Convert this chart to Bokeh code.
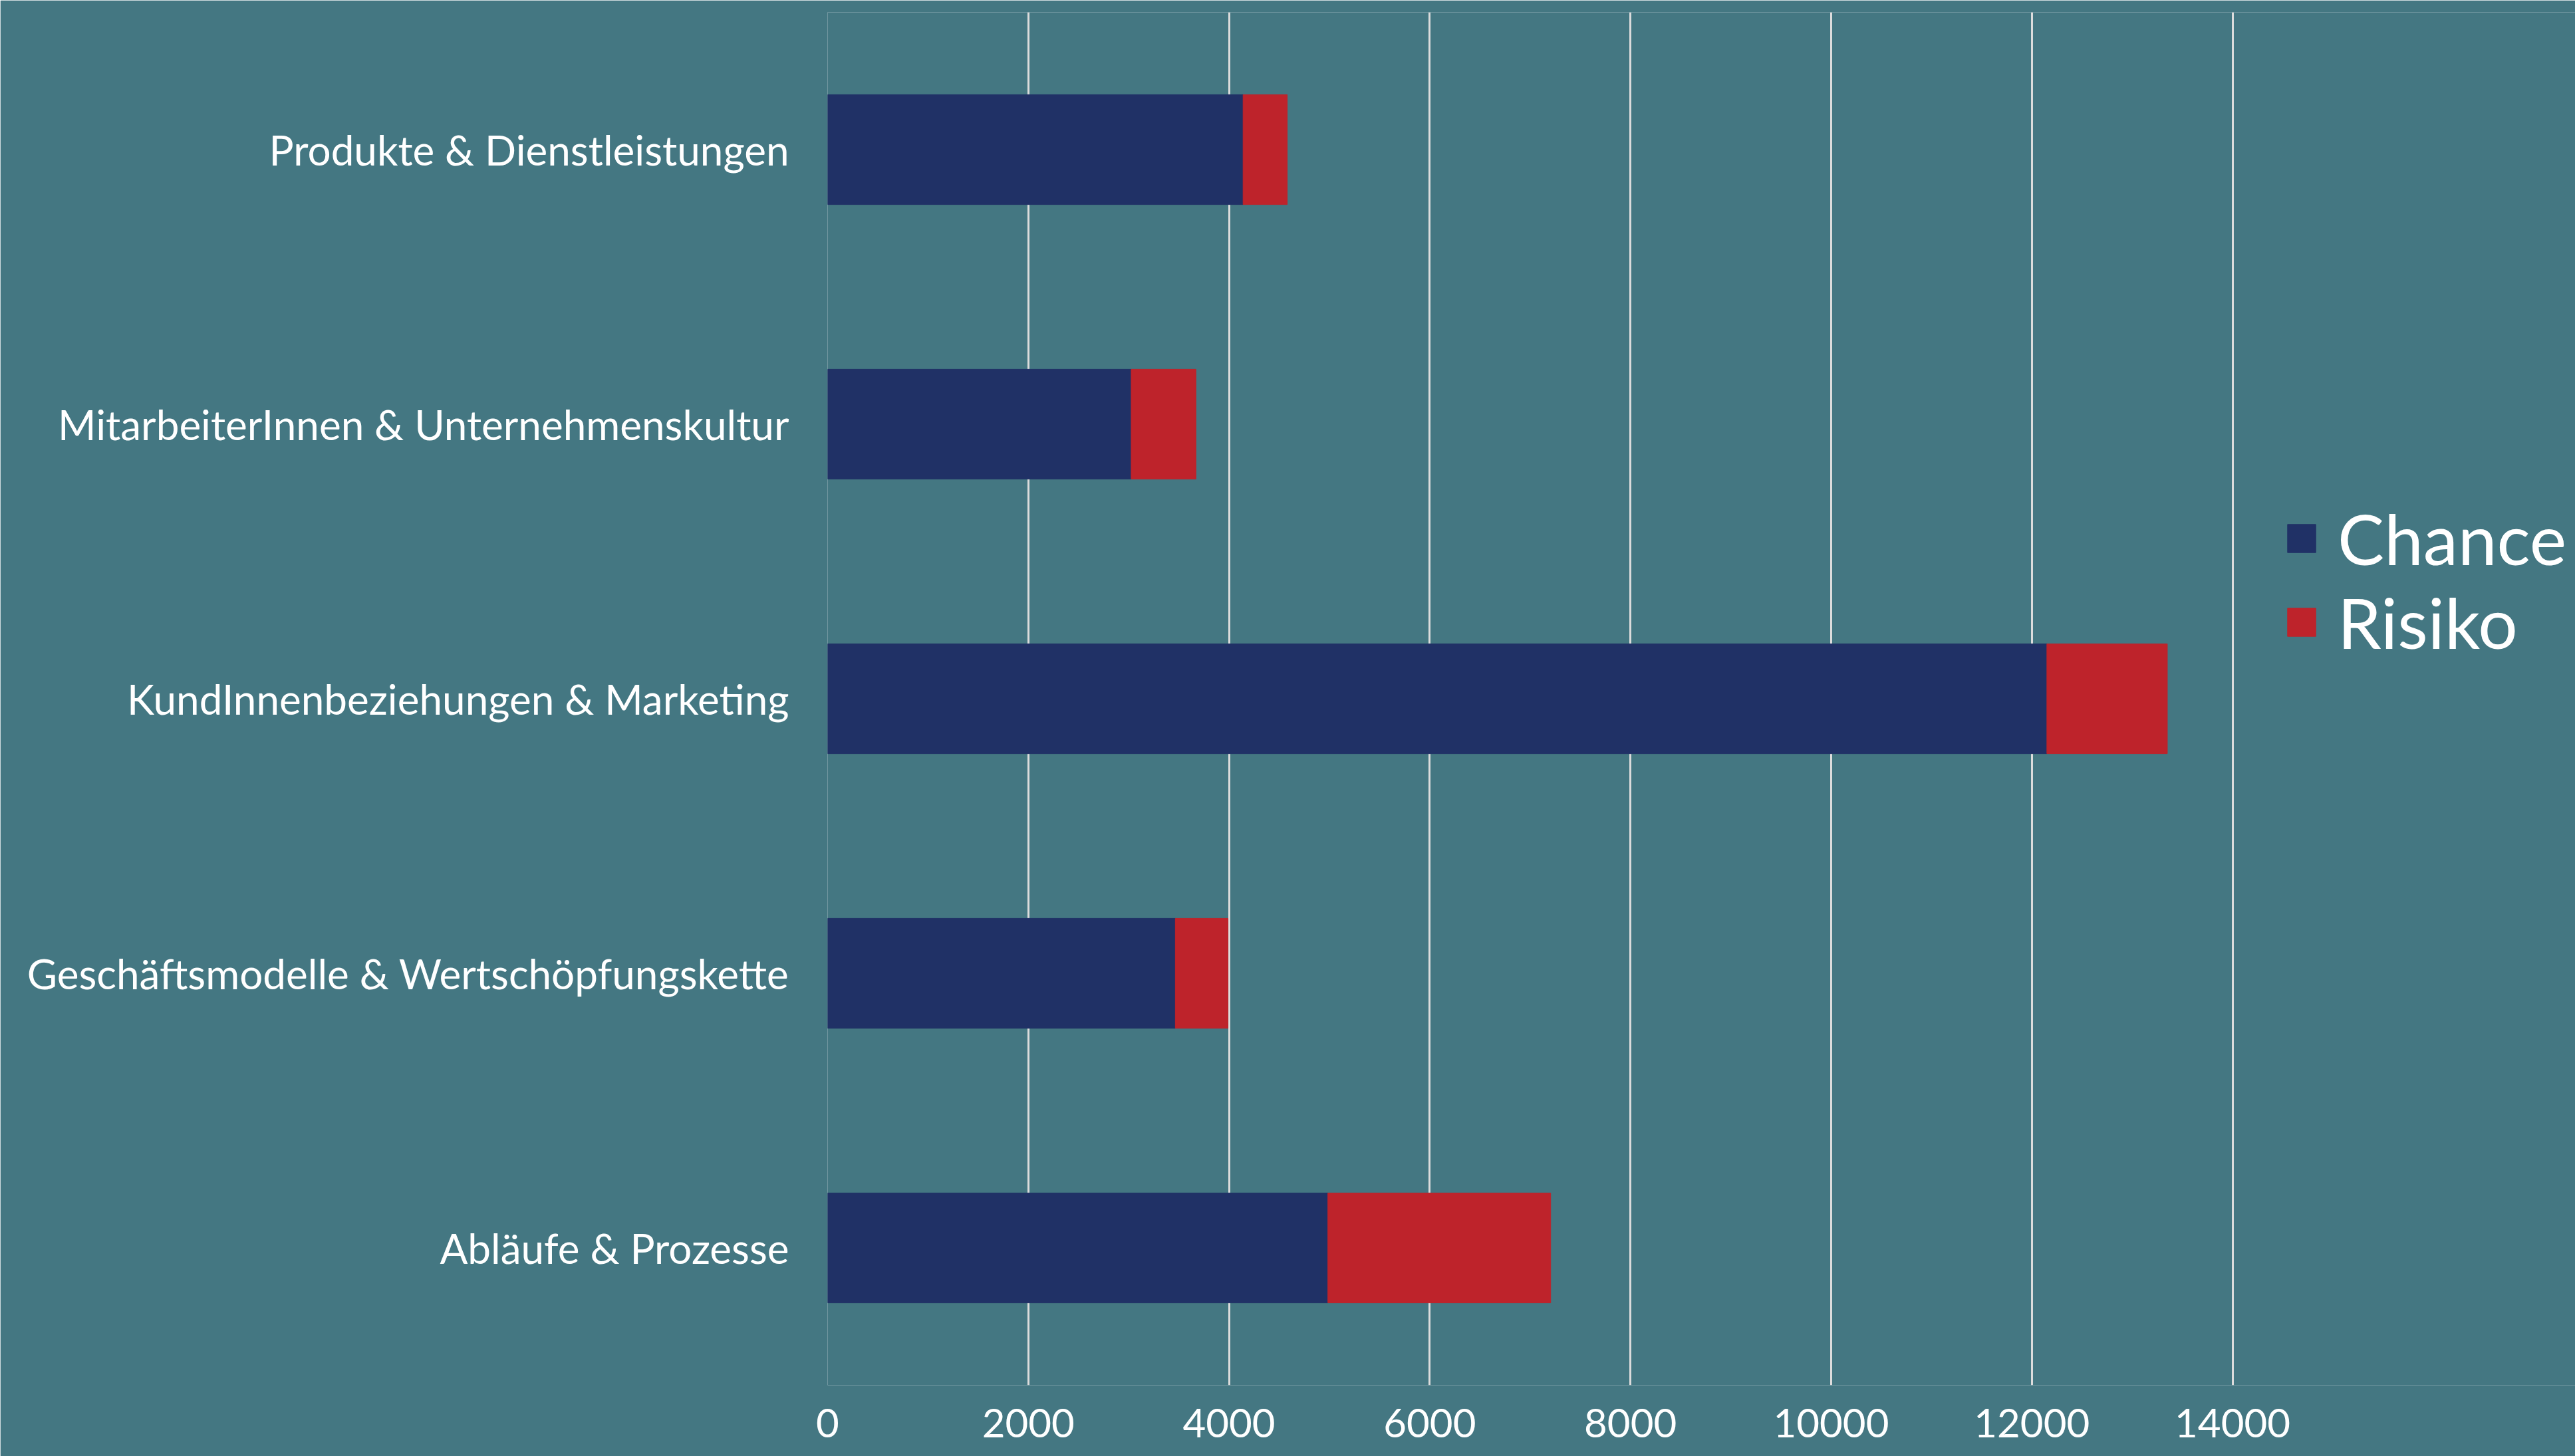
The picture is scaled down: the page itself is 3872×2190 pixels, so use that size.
from bokeh.plotting import figure
from bokeh.models import FactorRange, Range1d, FixedTicker, Legend, LegendItem, ColumnDataSource
from bokeh.embed import file_html
from bokeh.resources import INLINE

categories = [
    "Produkte & Dienstleistungen",
    "MitarbeiterInnen & Unternehmenskultur",
    "KundInnenbeziehungen & Marketing",
    "Geschäftsmodelle & Wertschöpfungskette",
    "Abläufe & Prozesse",
]
chance = [4140, 3025, 12150, 3465, 4985]
risiko = [440, 645, 1200, 525, 2220]
series_names = ["Chance", "Risiko"]
ticks = [0, 2000, 4000, 6000, 8000, 10000, 12000, 14000]

BG = "#447782"
NAVY = "#203166"
RED = "#be232b"
GRID = "#dcdcdc"
FONT = "Lato"

src = ColumnDataSource(dict(cat=categories, chance=chance, risiko=risiko))

p = figure(
    width=3872, height=2190,
    y_range=FactorRange(*reversed(categories)),
    x_range=Range1d(0, 17416),
    output_backend="svg", toolbar_location=None,
    min_border_left=1244, min_border_right=0,
    min_border_top=18, min_border_bottom=107,
)
p.background_fill_color = BG
p.border_fill_color = BG
p.outline_line_color = None

renderers = p.hbar_stack(["chance", "risiko"], y="cat", height=0.4,
                         color=[NAVY, RED], source=src)

p.xaxis.ticker = FixedTicker(ticks=ticks)
p.xgrid.ticker = FixedTicker(ticks=ticks)
p.xgrid.grid_line_color = GRID
p.xgrid.grid_line_width = 3
p.ygrid.grid_line_color = None

for ax in (p.xaxis, p.yaxis):
    ax.axis_line_color = None
    ax.major_tick_line_color = None
    ax.minor_tick_line_color = None
    ax.major_tick_out = 0
    ax.major_tick_in = 0
    ax.major_label_text_color = "white"
    ax.major_label_text_font = FONT
p.xaxis.major_label_text_font_size = "60px"
p.xaxis.major_label_standoff = 35
p.yaxis.major_label_text_font_size = "62px"
p.yaxis.major_label_standoff = 58

legend = Legend(
    items=[LegendItem(label=series_names[i], renderers=[renderers[i]]) for i in range(2)],
    location=(2190, 1085),
    orientation="vertical",
    glyph_width=53, glyph_height=53,
    label_text_font_size="105px", label_text_color="white", label_text_font=FONT,
    label_standoff=28, spacing=-4, padding=0, margin=0,
    border_line_color=None, background_fill_alpha=0,
)
p.add_layout(legend)

open("out.html", "w").write(file_html(p, INLINE))
